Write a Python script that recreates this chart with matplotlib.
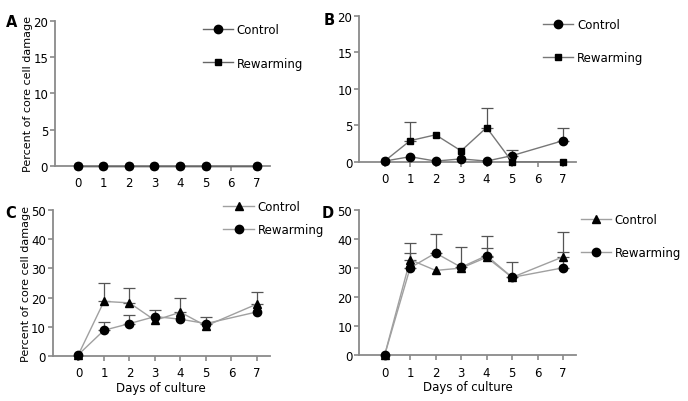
import numpy as np
import matplotlib
matplotlib.use("Agg")
import matplotlib.pyplot as plt

plt.rcParams["font.family"] = "DejaVu Sans"
plt.rcParams["font.size"] = 8

days = [0, 1, 2, 3, 4, 5, 7]

# panel A
a_control = [0, 0, 0, 0, 0, 0, 0]
a_rewarm = [0, 0, 0, 0, 0, 0, 0]

# panel B
b_control = [0.1, 0.7, 0.1, 0.4, 0.1, 0.85, 2.9]
b_control_err = [None, None, None, None, None, 0.75, 1.7]
b_rewarm = [0.1, 2.9, 3.7, 1.5, 4.7, 0.0, 0.0]
b_rewarm_err = [None, 2.6, None, None, 2.65, None, None]

# panel C
c_control = [0.5, 18.7, 18.2, 12.2, 15.0, 10.3, 17.8]
c_control_err = [None, 6.2, 5.0, None, 5.0, None, 4.0]
c_rewarm = [0.5, 8.8, 11.1, 13.5, 12.6, 11.1, 15.1]
c_rewarm_err = [None, 2.8, 3.1, 2.4, None, 2.4, None]

# panel D
d_control = [0.0, 32.9, 29.2, 30.0, 33.7, 26.8, 33.9]
d_control_err = [None, 5.6, None, None, 7.4, 5.2, 8.6]
d_rewarm = [0.0, 30.1, 35.2, 30.3, 34.3, 26.8, 30.1]
d_rewarm_err = [None, 5.0, 6.4, 6.8, 2.5, None, 5.5]

AXC = "#8a8a8a"


def style_axis(ax, ymax, ystep, xmin):
    ax.set_xlim(xmin, 7.5)
    ax.set_ylim(0, ymax)
    ax.set_xticks(range(0, 8))
    ax.set_yticks(np.arange(0, ymax + 1, ystep))
    for s in ("top", "right"):
        ax.spines[s].set_visible(False)
    for s in ("left", "bottom"):
        ax.spines[s].set_color(AXC)
        ax.spines[s].set_linewidth(1.3)
    ax.tick_params(colors=AXC, labelcolor="black", width=1.2, length=3.5,
                   labelsize=8.5, pad=1.5)
    ax.tick_params(axis="x", pad=4)


def draw_series(ax, y, err, marker, ms, lc, label):
    ax.plot(days, y, color=lc, lw=1.0, marker=marker, ms=ms, mfc="black",
            mec="black", label=label, clip_on=False, zorder=3)
    if err is not None:
        e = np.array([np.nan if v is None else v for v in err], dtype=float)
        m = ~np.isnan(e)
        x = np.array(days)[m]
        yy = np.array(y)[m]
        ax.errorbar(x, yy, yerr=[np.zeros(m.sum()), e[m]], fmt="none",
                    ecolor="#555555", elinewidth=0.9, capsize=4, capthick=0.9, zorder=2)


def legend(ax, bx, by, sp):
    ax.legend(loc="upper left", bbox_to_anchor=(bx, by), frameon=False,
              handlelength=2.6, handletextpad=0.3, labelspacing=sp,
              borderaxespad=0, fontsize=8.5)


fig = plt.figure(figsize=(6.88, 4.02), dpi=100)

axA = fig.add_axes([0.080, 0.585, 0.312, 0.36])
axB = fig.add_axes([0.522, 0.595, 0.315, 0.363])
axC = fig.add_axes([0.077, 0.112, 0.315, 0.363])
axD = fig.add_axes([0.522, 0.114, 0.315, 0.361])

style_axis(axA, 20, 5, -0.88)
draw_series(axA, a_control, None, "o", 6, "#666666", "Control")
draw_series(axA, a_rewarm, None, "s", 4.5, "#666666", "Rewarming")
axA.lines[1].set_zorder(2.5)
legend(axA, 0.665, 1.02, 1.75)
axA.set_ylabel("Percent of core cell damage", labelpad=0, fontsize=8)

style_axis(axB, 20, 5, -1.0)
draw_series(axB, b_control, b_control_err, "o", 6, "#777777", "Control")
draw_series(axB, b_rewarm, b_rewarm_err, "s", 5, "#777777", "Rewarming")
legend(axB, 0.825, 1.02, 1.75)

style_axis(axC, 50, 10, -1.0)
draw_series(axC, c_control, c_control_err, "^", 5.5, "#a0a0a0", "Control")
draw_series(axC, c_rewarm, c_rewarm_err, "o", 6, "#a0a0a0", "Rewarming")
legend(axC, 0.765, 1.10, 0.85)
axC.set_ylabel("Percent of core cell damage", labelpad=0, fontsize=8)
axC.set_xlabel("Days of culture", labelpad=1, fontsize=8.5)

style_axis(axD, 50, 10, -1.0)
draw_series(axD, d_control, d_control_err, "^", 5.5, "#a0a0a0", "Control")
draw_series(axD, d_rewarm, d_rewarm_err, "o", 6, "#a0a0a0", "Rewarming")
legend(axD, 1.0, 1.01, 1.65)
axD.set_xlabel("Days of culture", labelpad=1, fontsize=8.5)

for lab, x, y in [("A", 0.008, 0.945), ("B", 0.470, 0.950),
                  ("C", 0.008, 0.470), ("D", 0.468, 0.470)]:
    fig.text(x, y, lab, fontsize=10.5, fontweight="bold", va="center")

fig.savefig("out.png", dpi=100)
